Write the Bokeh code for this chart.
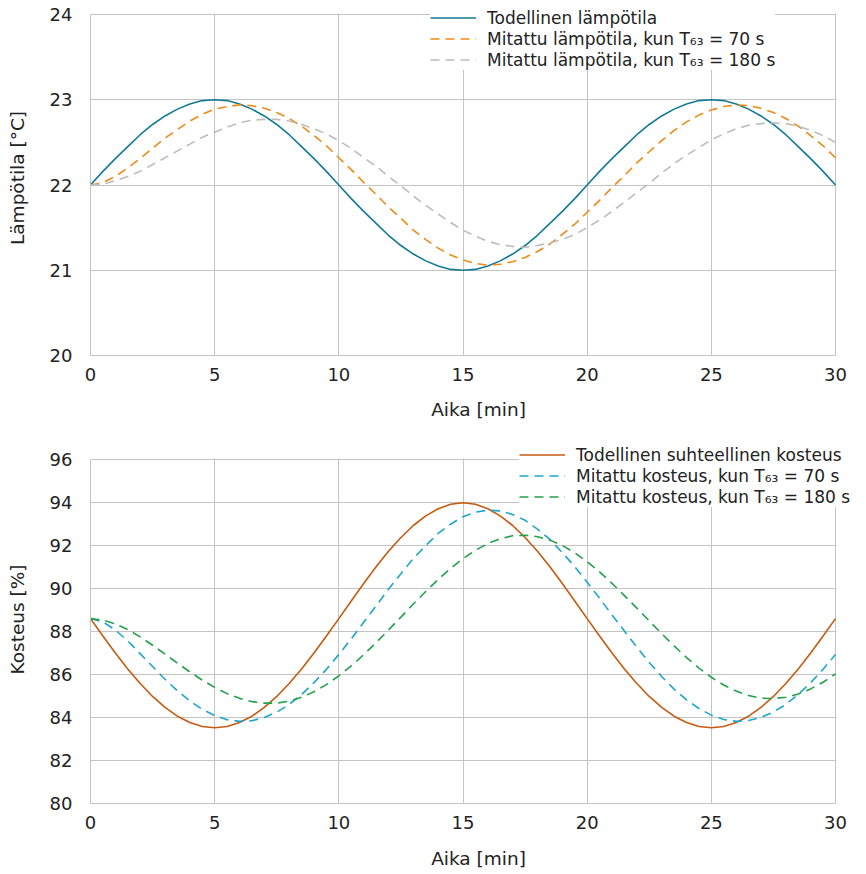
from bokeh.plotting import figure
from bokeh.models import Range1d, FixedTicker, Legend, LegendItem, BoxAnnotation
from bokeh.layouts import column
from bokeh.embed import file_html
from bokeh.resources import INLINE

# ---- data (every half minute) ----
t_min = [i / 2 for i in range(61)]

temp_true = [22.00, 22.16, 22.31, 22.45, 22.59, 22.71, 22.81, 22.89, 22.95, 22.99, 23.00,
             22.99, 22.95, 22.89, 22.81, 22.71, 22.59, 22.45, 22.31, 22.16, 22.00,
             21.84, 21.69, 21.55, 21.41, 21.29, 21.19, 21.11, 21.05, 21.01, 21.00,
             21.01, 21.05, 21.11, 21.19, 21.29, 21.41, 21.55, 21.69, 21.84, 22.00,
             22.16, 22.31, 22.45, 22.59, 22.71, 22.81, 22.89, 22.95, 22.99, 23.00,
             22.99, 22.95, 22.89, 22.81, 22.71, 22.59, 22.45, 22.31, 22.16, 22.00]
temp_70 = [22.00, 22.03, 22.10, 22.20, 22.31, 22.43, 22.55, 22.65, 22.75, 22.83, 22.89,
           22.92, 22.94, 22.93, 22.90, 22.85, 22.78, 22.69, 22.58, 22.46, 22.32,
           22.18, 22.03, 21.89, 21.74, 21.61, 21.47, 21.36, 21.26, 21.18, 21.12,
           21.08, 21.06, 21.07, 21.10, 21.15, 21.22, 21.31, 21.42, 21.54, 21.68,
           21.82, 21.97, 22.11, 22.26, 22.39, 22.52, 22.64, 22.74, 22.82, 22.88,
           22.92, 22.94, 22.93, 22.90, 22.85, 22.78, 22.69, 22.58, 22.46, 22.32]
temp_180 = [22.00, 22.01, 22.05, 22.10, 22.16, 22.24, 22.32, 22.40, 22.48, 22.56, 22.62,
            22.68, 22.73, 22.76, 22.77, 22.77, 22.75, 22.71, 22.66, 22.60, 22.52,
            22.43, 22.32, 22.22, 22.10, 21.99, 21.87, 21.76, 21.66, 21.56, 21.47,
            21.40, 21.34, 21.30, 21.28, 21.27, 21.29, 21.32, 21.36, 21.42, 21.50,
            21.59, 21.69, 21.80, 21.91, 22.02, 22.14, 22.25, 22.35, 22.44, 22.53,
            22.60, 22.66, 22.70, 22.72, 22.73, 22.72, 22.69, 22.64, 22.58, 22.50]

rh_true = [88.60, 87.79, 87.00, 86.26, 85.58, 84.98, 84.47, 84.06, 83.77, 83.58, 83.52,
           83.58, 83.77, 84.06, 84.47, 84.98, 85.58, 86.26, 87.00, 87.79, 88.60,
           89.42, 90.23, 91.01, 91.73, 92.37, 92.93, 93.38, 93.71, 93.92, 93.99,
           93.92, 93.71, 93.38, 92.93, 92.37, 91.73, 91.01, 90.23, 89.42, 88.60,
           87.79, 87.00, 86.26, 85.58, 84.98, 84.47, 84.06, 83.77, 83.58, 83.52,
           83.58, 83.77, 84.06, 84.47, 84.98, 85.58, 86.26, 87.00, 87.79, 88.60]
rh_70 = [88.60, 88.45, 88.07, 87.56, 86.97, 86.37, 85.78, 85.24, 84.77, 84.38, 84.09,
         83.90, 83.82, 83.85, 84.00, 84.25, 84.61, 85.07, 85.62, 86.24, 86.93,
         87.66, 88.43, 89.19, 89.97, 90.69, 91.39, 92.00, 92.56, 92.99, 93.34,
         93.55, 93.64, 93.61, 93.44, 93.17, 92.76, 92.28, 91.67, 91.02, 90.29,
         89.55, 88.77, 88.02, 87.27, 86.56, 85.91, 85.32, 84.82, 84.42, 84.11,
         83.91, 83.82, 83.86, 84.00, 84.26, 84.61, 85.07, 85.62, 86.24, 86.93]
rh_180 = [88.60, 88.53, 88.35, 88.09, 87.75, 87.36, 86.95, 86.53, 86.12, 85.74, 85.40,
          85.11, 84.89, 84.74, 84.67, 84.67, 84.76, 84.94, 85.20, 85.53, 85.94,
          86.40, 86.92, 87.48, 88.07, 88.67, 89.28, 89.86, 90.42, 90.93, 91.39,
          91.78, 92.09, 92.32, 92.45, 92.48, 92.41, 92.25, 92.00, 91.66, 91.25,
          90.77, 90.24, 89.67, 89.09, 88.49, 87.90, 87.33, 86.79, 86.30, 85.87,
          85.51, 85.23, 85.02, 84.90, 84.88, 84.94, 85.09, 85.33, 85.64, 86.03]

x_ticks = [0, 5, 10, 15, 20, 25, 30]
temp_ticks = [20, 21, 22, 23, 24]
rh_ticks = [80, 82, 84, 86, 88, 90, 92, 94, 96]

temp_labels = ["Todellinen lämpötila",
               "Mitattu lämpötila, kun T\u2086\u2083 = 70 s",
               "Mitattu lämpötila, kun T\u2086\u2083 = 180 s"]
rh_labels = ["Todellinen suhteellinen kosteus",
             "Mitattu kosteus, kun T\u2086\u2083 = 70 s",
             "Mitattu kosteus, kun T\u2086\u2083 = 180 s"]

FONT = "DejaVu Sans"
TXT = "#222222"
GRID = "#c4c4c4"

W = 866
LEFT = 90          # frame left edge (px)
PLOT_W = 745       # width of the 0..30 data area (px)
X_END = 30 * (W - LEFT) / PLOT_W   # range extends to the right edge so the legend is not clipped


def make_fig(height, y0, y1, top_px, data_h, bottom_px, ylabel, yticks, xlab_standoff):
    # frame spans from the very top of the figure; the data area y0..y1 starts top_px below it
    y_top = y1 + top_px * (y1 - y0) / data_h
    p = figure(width=W, height=height, output_backend="svg", toolbar_location=None,
               x_range=Range1d(0, X_END), y_range=Range1d(y0, y_top),
               min_border_left=LEFT, min_border_right=0, min_border_top=0,
               min_border_bottom=bottom_px)
    p.xaxis.ticker = FixedTicker(ticks=x_ticks)
    p.yaxis.ticker = FixedTicker(ticks=yticks)
    p.xaxis.bounds = (0, 30)
    p.yaxis.bounds = (y0, y1)
    for ax in (p.xaxis[0], p.yaxis[0]):
        ax.axis_line_color = GRID
        ax.major_tick_line_color = None
        ax.minor_tick_line_color = None
        ax.major_label_text_font = FONT
        ax.major_label_text_font_size = "18px"
        ax.major_label_text_color = TXT
        ax.axis_label_text_font = FONT
        ax.axis_label_text_font_size = "18.5px"
        ax.axis_label_text_font_style = "normal"
        ax.axis_label_text_color = TXT
    p.xaxis.axis_label = "Aika [min]"
    p.yaxis.axis_label = ylabel
    p.xaxis.major_label_standoff = 6
    p.xaxis.axis_label_standoff = xlab_standoff
    p.yaxis.major_label_standoff = 12
    p.yaxis.axis_label_standoff = 19
    p.xgrid.grid_line_color = GRID
    p.ygrid.grid_line_color = GRID
    p.xgrid.ticker = FixedTicker(ticks=x_ticks)
    p.ygrid.ticker = FixedTicker(ticks=yticks)
    p.outline_line_color = None
    p.background_fill_color = "white"
    p.border_fill_color = "white"
    # white masks hide the grid outside the 0..30 x y0..y1 area
    px_x = 30 / PLOT_W
    px_y = (y1 - y0) / data_h
    p.add_layout(BoxAnnotation(left=30 + px_x, right=X_END + 1, bottom=y0 - 1, top=y_top + 1,
                               fill_color="white", fill_alpha=1, line_color=None,
                               level="underlay"))
    p.add_layout(BoxAnnotation(left=-1, right=X_END + 1, bottom=y1 + px_y, top=y_top + 1,
                               fill_color="white", fill_alpha=1, line_color=None,
                               level="underlay"))
    return p


def make_legend(p, items, loc):
    lg = Legend(items=items, location=loc)
    lg.label_text_font = FONT
    lg.label_text_font_size = "17px"
    lg.label_text_color = TXT
    lg.label_height = 21
    lg.glyph_height = 21
    lg.glyph_width = 46
    lg.label_standoff = 11
    lg.spacing = 0
    lg.padding = 8
    lg.margin = 0
    lg.border_line_color = None
    lg.background_fill_color = "white"
    lg.background_fill_alpha = 1.0
    p.add_layout(lg)


# ---- top chart: temperature ----
p1 = make_fig(435, 20, 24, 14, 341, 80, "Lämpötila [°C]", temp_ticks, 15)
r1 = p1.line(t_min, temp_true, line_color="#137a94", line_width=1.6)
r2 = p1.line(t_min, temp_70, line_color="#ee8a17", line_width=1.6, line_dash="9 6")
r3 = p1.line(t_min, temp_180, line_color="#bdbdbd", line_width=1.6, line_dash="9 6")
make_legend(p1, [LegendItem(label=temp_labels[0], renderers=[r1]),
                 LegendItem(label=temp_labels[1], renderers=[r2]),
                 LegendItem(label=temp_labels[2], renderers=[r3])], (340, 285))

# ---- bottom chart: humidity ----
p2 = make_fig(439, 80, 96, 24, 344, 71, "Kosteus [%]", rh_ticks, 16)
s1 = p2.line(t_min, rh_true, line_color="#c55a11", line_width=1.6)
s2 = p2.line(t_min, rh_70, line_color="#1ea5cc", line_width=1.6, line_dash="9 6")
s3 = p2.line(t_min, rh_180, line_color="#22a04b", line_width=1.6, line_dash="9 6")
make_legend(p2, [LegendItem(label=rh_labels[0], renderers=[s1]),
                 LegendItem(label=rh_labels[1], renderers=[s2]),
                 LegendItem(label=rh_labels[2], renderers=[s3])], (429, 296))

layout = column(p1, p2, spacing=0)
open("out.html", "w").write(file_html(layout, INLINE))
